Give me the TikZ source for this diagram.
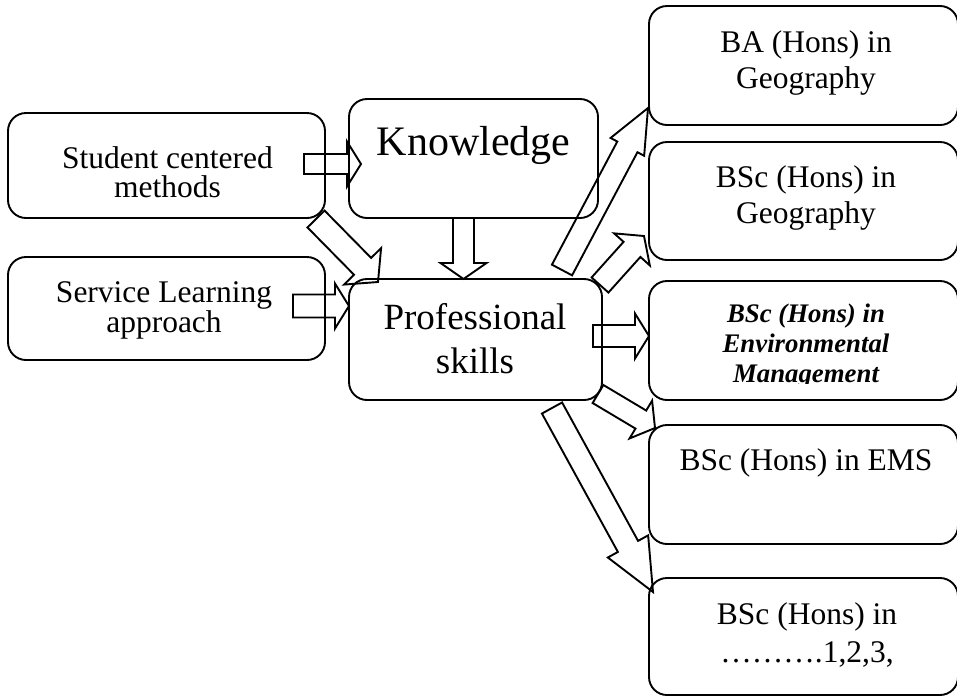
\documentclass[tikz,border=0pt]{standalone}
\usepackage{fontspec}
\setmainfont{Liberation Serif}
\usetikzlibrary{calc}
\tikzset{boite/.style={draw, line width=1.9pt, rounded corners=18pt, inner sep=0pt},
         fleche/.style={draw, line width=1.9pt, line join=miter},
         texte/.style={anchor=base, align=center, inner sep=0pt}}
% fleche creuse : queue, pointe, demi-largeur, demi-tete, longueur tete
\newcommand{\fleche}[5]{%
  \coordinate (fb) at ($(#2)!#5pt!(#1)$);
  \draw[fleche] ($(#1)!#3pt!90:(#2)$) -- ($(fb)!#3pt!90:(#2)$) -- ($(fb)!#4pt!90:(#2)$)
    -- (#2) -- ($(fb)!#4pt!-90:(#2)$) -- ($(fb)!#3pt!-90:(#2)$) -- ($(#1)!#3pt!-90:(#2)$) -- cycle;}
\newcommand{\taille}[2]{\fontsize{#1}{#2}\selectfont}

\begin{document}
\begin{tikzpicture}[x=1pt,y=-1pt]
  \useasboundingbox (0,0) rectangle (957,697);
  % boites
  \node[boite, minimum width=317, minimum height=105] (stud) at (166.5,165.5) {};
  \node[boite, minimum width=317, minimum height=103] (serv) at (166.5,308.5) {};
  \node[boite, minimum width=249, minimum height=119] (knw) at (473.5,158.5) {};
  \node[boite, minimum width=253, minimum height=121] (prof) at (475.5,339.5) {};
  \node[boite, minimum width=309, minimum height=119] (ba) at (803.5,65.5) {};
  \node[boite, minimum width=309, minimum height=118] (bsg) at (803.5,201) {};
  \node[boite, minimum width=309, minimum height=119] (env) at (803.5,340.5) {};
  \node[boite, minimum width=309, minimum height=119] (ems) at (803.5,484.5) {};
  \node[boite, minimum width=309, minimum height=117] (bsx) at (803.5,636.5) {};
  % textes (base = derniere ligne)
  \node[texte, font=\taille{31.5}{29}] (studt) at (167.5,197) {Student centered\\methods};
  \node[texte, font=\taille{31.5}{29.5}] (servt) at (164,332) {Service Learning\\approach};
  \node[texte, font=\taille{42}{48}] (knwt) at (473.5,155) {Knowledge};
  \node[texte, font=\taille{37}{44}] (proft) at (475,373) {Professional\\skills};
  \node[texte, font=\taille{31.5}{36}] (bat) at (806,88) {BA (Hons) in\\Geography};
  \node[texte, font=\taille{31.5}{36}] (bsgt) at (806,223) {BSc (Hons) in\\Geography};
  \begin{scope}
    \clip (649,281) rectangle (957,383);
    \node[texte, font=\taille{26.8}{30}\bfseries\itshape] (envt) at (806,382)
      {BSc (Hons) in\\Environmental\\Management};
  \end{scope}
  \node[texte, font=\taille{31.5}{36}] (emst) at (806,470) {BSc (Hons) in EMS};
  \node[texte, font=\taille{31.5}{38}] (bsxt) at (807,662) {BSc (Hons) in\\……….1,2,3,};
  % extremites des fleches
  \coordinate (q1) at (304,164);   \coordinate (p1) at (361,164);
  \coordinate (q2) at (293,306);   \coordinate (p2) at (349,306);
  \coordinate (q3) at (463.5,218); \coordinate (p3) at (463.5,279);
  \coordinate (q4) at (316,219);   \coordinate (p4) at (378,282);
  \coordinate (q5) at (562,270);   \coordinate (p5) at (648,108);
  \coordinate (q6) at (600,285);   \coordinate (p6) at (644,236);
  \coordinate (q7) at (593,336);   \coordinate (p7) at (649,336);
  \coordinate (q8) at (598,394);   \coordinate (p8) at (655,428);
  \coordinate (q9) at (552,408);   \coordinate (p9) at (653,592);
  % fleches
  \fleche{q1}{p1}{10}{22.5}{14}
  \fleche{q2}{p2}{11.5}{22.5}{14}
  \fleche{q3}{p3}{10.5}{23}{16}
  \fleche{q4}{p4}{12}{26}{22}
  \fleche{q5}{p5}{11.4}{19}{44}
  \fleche{q6}{p6}{11.3}{24}{18}
  \fleche{q7}{p7}{11}{22.5}{14}
  \fleche{q8}{p8}{10.5}{22}{16.5}
  \fleche{q9}{p9}{11.5}{23}{52}
\end{tikzpicture}
\end{document}
